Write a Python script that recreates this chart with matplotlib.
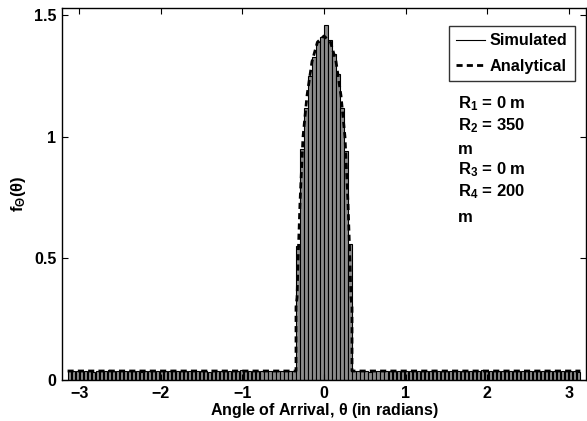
import numpy as np
import matplotlib
matplotlib.use("Agg")
import matplotlib.pyplot as plt
from matplotlib.lines import Line2D

plt.rcParams['font.family'] = ['Liberation Sans', 'DejaVu Sans']
plt.rcParams['font.weight'] = 'bold'
plt.rcParams['mathtext.fontset'] = 'custom'
plt.rcParams['mathtext.rm'] = 'Liberation Sans:bold'
plt.rcParams['mathtext.it'] = 'Liberation Sans:bold'
plt.rcParams['mathtext.bf'] = 'Liberation Sans:bold'

# ---- data ----
n_bins = 128
left_tail = [0.036, 0.038, 0.035, 0.037, 0.039, 0.036, 0.034, 0.038, 0.037, 0.035,
             0.040, 0.036, 0.037, 0.035, 0.038, 0.036, 0.039, 0.037, 0.034, 0.036,
             0.038, 0.037, 0.035, 0.039, 0.036, 0.037, 0.040, 0.035, 0.036, 0.038,
             0.037, 0.035, 0.039, 0.036, 0.038, 0.034, 0.037, 0.036, 0.039, 0.035,
             0.037, 0.038, 0.036, 0.040, 0.035, 0.037, 0.036, 0.038, 0.035, 0.039,
             0.036, 0.037, 0.035, 0.038, 0.036, 0.037, 0.035]
center = [0.55, 0.95, 1.12, 1.25, 1.33, 1.39, 1.41,
          1.46, 1.40, 1.34, 1.26, 1.12, 0.94, 0.56]
right_tail = [0.037, 0.035, 0.036, 0.038, 0.034, 0.037, 0.036, 0.039, 0.035, 0.037,
              0.036, 0.038, 0.035, 0.037, 0.039, 0.036, 0.035, 0.038, 0.037, 0.036,
              0.040, 0.035, 0.037, 0.036, 0.038, 0.035, 0.039, 0.037, 0.036, 0.038,
              0.035, 0.037, 0.040, 0.036, 0.038, 0.035, 0.037, 0.036, 0.039, 0.035,
              0.037, 0.038, 0.036, 0.035, 0.037, 0.039, 0.036, 0.038, 0.035, 0.037,
              0.036, 0.038, 0.035, 0.037, 0.036, 0.035, 0.034]
sim_heights = left_tail + center + right_tail

ana_theta = [-3.1416, -0.343, -0.343, -0.33, -0.318, -0.294, -0.257, -0.208, -0.147,
             -0.08, 0.0, 0.08, 0.147, 0.208, 0.257, 0.294, 0.318, 0.33, 0.343, 0.343,
             3.1416]
ana_f = [0.037, 0.037, 0.30, 0.34, 0.49, 0.73, 1.00, 1.17, 1.31,
         1.39, 1.415, 1.39, 1.31, 1.17, 1.00, 0.73, 0.49, 0.34, 0.30, 0.037,
         0.037]

xticks = [-3, -2, -1, 0, 1, 2, 3]
yticks = [0, 0.5, 1, 1.5]
ytick_labels = ['0', '0.5', '1', '1.5']
annotation_lines = ['R$_1$ = 0 m', 'R$_2$ = 350', 'm', 'R$_3$ = 0 m', 'R$_4$ = 200', 'm']

# ---- figure ----
fig = plt.figure(figsize=(5.87, 4.21), dpi=100)
ax = fig.add_axes([62 / 587, 41 / 421, 524 / 587, 372 / 421])

edges = np.linspace(-np.pi, np.pi, n_bins + 1)
centers = 0.5 * (edges[:-1] + edges[1:])
width = edges[1] - edges[0]
ax.bar(centers, sim_heights, width=0.8 * width, color='#8c8c8c',
       edgecolor='black', linewidth=0.8)
ax.plot(ana_theta, ana_f, color='black', lw=2.0, linestyle=(0, (2.2, 1.5)))

ax.set_xlim(-3.21, 3.21)
ax.set_ylim(0, 1.53)
ax.set_xticks(xticks)
ax.set_xticklabels([str(t).replace('-', '\u2212') for t in xticks])
ax.set_yticks(yticks)
ax.set_yticklabels(ytick_labels)
ax.tick_params(direction='in', top=True, right=True, length=4, width=0.8,
               labelsize=11.5, pad=4)
for s in ax.spines.values():
    s.set_linewidth(1.0)

ax.set_xlabel('Angle of Arrival, $\\theta$ (in radians)', fontsize=11.5,
              fontweight='bold', labelpad=0)
ax.set_ylabel('f$_\\Theta$($\\theta$)', fontsize=12, fontweight='bold', labelpad=4)

handles = [Line2D([], [], color='black', lw=0.8),
           Line2D([], [], color='black', lw=2.0, linestyle=(0, (2.2, 1.5)))]
leg = ax.legend(handles, ['Simulated', 'Analytical'], loc='upper right',
                bbox_to_anchor=(575 / 587, 1 - 26 / 421), bbox_transform=fig.transFigure,
                fontsize=11.7, frameon=True, fancybox=False, borderpad=0.45,
                handlelength=1.8, handletextpad=0.3, labelspacing=0.65,
                borderaxespad=0)
leg.get_frame().set_edgecolor('black')
leg.get_frame().set_linewidth(1.0)
for t in leg.get_texts():
    t.set_fontweight('bold')

baselines = [108, 130, 154, 174, 196, 222]
for txt, y in zip(annotation_lines, baselines):
    fig.text(458 / 587, 1 - y / 421, txt, fontsize=12, fontweight='bold',
             ha='left', va='baseline')

fig.savefig('out.png', dpi=100)
